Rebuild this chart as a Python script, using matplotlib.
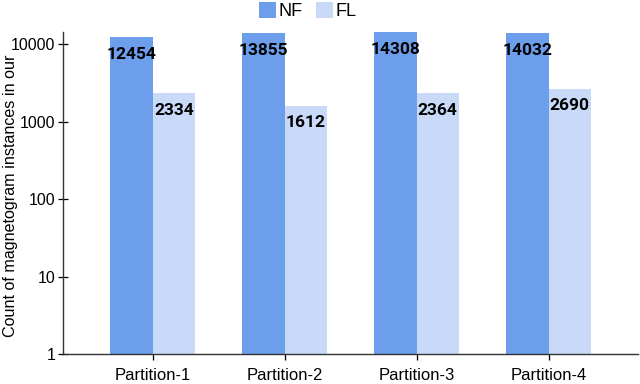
import matplotlib.pyplot as plt
import matplotlib.ticker as mticker
import numpy as np

partitions = ["Partition-1", "Partition-2", "Partition-3", "Partition-4"]
nf_counts = [12454, 13855, 14308, 14032]
fl_counts = [2334, 1612, 2364, 2690]

nf_color = "#6d9eeb"
fl_color = "#c9daf8"

plt.rcParams["font.family"] = ["Liberation Sans", "DejaVu Sans"]

fig = plt.figure(figsize=(6.4, 3.84), dpi=100)
ax = fig.add_axes([0.0984, 0.078, 0.899, 0.839])

x = np.arange(len(partitions))
w = 0.32
b1 = ax.bar(x - w/2, nf_counts, w, color=nf_color, label="NF", linewidth=0)
b2 = ax.bar(x + w/2, fl_counts, w, color=fl_color, label="FL", linewidth=0)

ax.set_yscale("log")
ax.set_ylim(1, 14500)
ax.set_xlim(-0.68, 3.68)
ax.yaxis.set_major_locator(mticker.FixedLocator([1, 10, 100, 1000, 10000]))
ax.yaxis.set_major_formatter(mticker.FuncFormatter(lambda v, p: "%d" % v))
ax.yaxis.set_minor_locator(mticker.NullLocator())
ax.set_xticks(x)
ax.set_xticklabels(partitions, fontsize=12)
ax.tick_params(axis="y", labelsize=11.5, direction="inout", length=7, width=0.9, pad=2)
ax.tick_params(axis="x", direction="out", length=4, width=0.9, pad=6)

for s in ["top", "right"]:
    ax.spines[s].set_visible(False)
for s in ["left", "bottom"]:
    ax.spines[s].set_color("#333333")
    ax.spines[s].set_linewidth(1.0)

# value labels just below each bar top
for bars, vals in [(b1, nf_counts), (b2, fl_counts)]:
    for r, v in zip(bars, vals):
        ax.text(r.get_x() + r.get_width()/2, v * 0.6, str(v), ha="center", va="center",
                fontsize=12.5, fontweight="bold", family=["Roboto", "DejaVu Sans"], color="black")

fig.text(0.017, 0.49, "Count of magnetogram instances in our", rotation=90,
         ha="center", va="center", fontsize=11.6)

fig.legend(loc="upper center", bbox_to_anchor=(0.481, 0.994), ncol=2, frameon=False,
           fontsize=13, handlelength=0.95, handleheight=0.95, handletextpad=0.15,
           columnspacing=0.7, borderpad=0, borderaxespad=0)

fig.savefig("out.png", dpi=100)
